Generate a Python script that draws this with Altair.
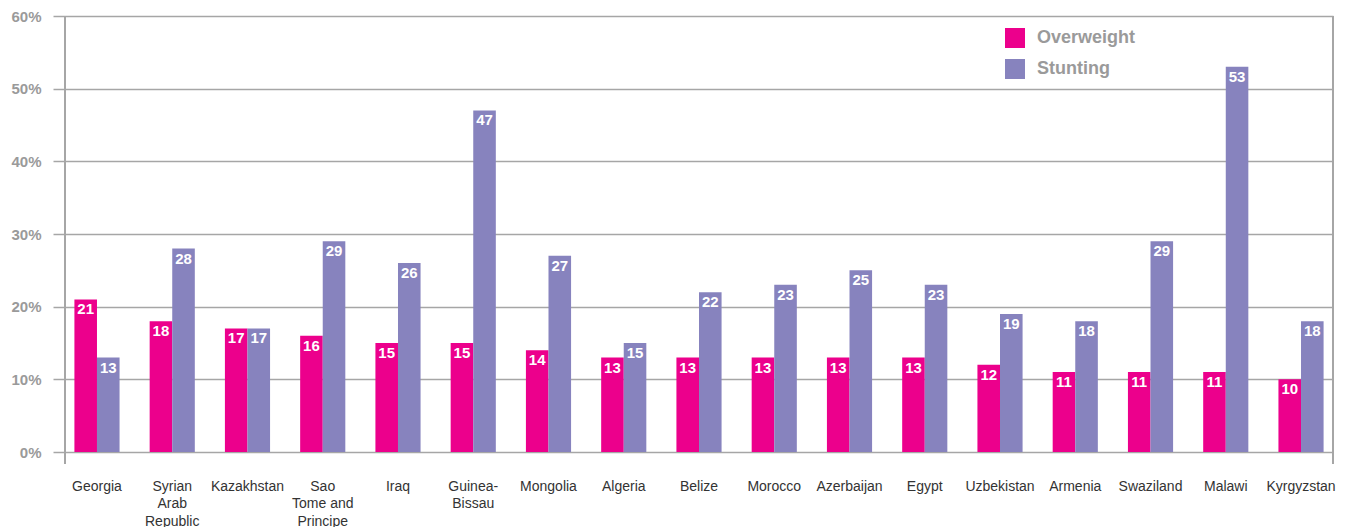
import altair as alt
import pandas as pd

countries = ["Georgia", "Syrian|Arab|Republic", "Kazakhstan", "Sao|Tome and|Principe", "Iraq",
             "Guinea-|Bissau", "Mongolia", "Algeria", "Belize", "Morocco", "Azerbaijan", "Egypt",
             "Uzbekistan", "Armenia", "Swaziland", "Malawi", "Kyrgyzstan"]
overweight = [21, 18, 17, 16, 15, 15, 14, 13, 13, 13, 13, 13, 12, 11, 11, 11, 10]
stunting = [13, 28, 17, 29, 26, 47, 27, 15, 22, 23, 25, 23, 19, 18, 29, 53, 18]
series = ["Overweight", "Stunting"]
colors = ["#EC008C", "#8783BE"]
y_ticks = [0, 10, 20, 30, 40, 50, 60]

rows = []
for c, o, s in zip(countries, overweight, stunting):
    rows.append({"country": c, "series": "Overweight", "value": o})
    rows.append({"country": c, "series": "Stunting", "value": s})
df = pd.DataFrame(rows)

W, H = 1268, 436
FONT = "Liberation Sans"

xenc = alt.X("country:N", sort=countries, title=None,
             scale=alt.Scale(paddingInner=0.4, paddingOuter=0.125),
             axis=alt.Axis(labelExpr="split(datum.label, '|')", labelAngle=0, ticks=False,
                           domain=False, labelPadding=34, labelFontSize=14, labelColor="#333333",
                           labelFont=FONT, labelLineHeight=17.5, labelBaseline="middle"))
yenc = alt.Y("value:Q", title=None,
             scale=alt.Scale(domain=[0, 60], nice=False),
             axis=alt.Axis(values=y_ticks, labelExpr="datum.value + '%'", domain=False,
                           tickSize=12, tickColor="#A6A6A6", tickWidth=1.5,
                           gridColor="#A6A6A6", gridWidth=1.5, gridOpacity=1,
                           labelPadding=12, labelFontSize=15, labelFontWeight="bold",
                           labelColor="#9A9A9A", labelFont=FONT))

base = alt.Chart(df)
bars = base.mark_bar().encode(
    x=xenc, y=yenc,
    xOffset=alt.XOffset("series:N", sort=series, scale=alt.Scale(paddingInner=0, paddingOuter=0)),
    color=alt.Color("series:N", sort=series,
                    scale=alt.Scale(domain=series, range=colors),
                    legend=alt.Legend(title=None, orient="none", legendX=940, legendY=12,
                                      symbolType="square", symbolSize=400, symbolStrokeWidth=0,
                                      symbolOpacity=1, labelFontSize=18, labelFontWeight="bold",
                                      labelColor="#9A9A9A", labelFont=FONT, labelOffset=12,
                                      rowPadding=11)),
)
labels = base.mark_text(baseline="top", dy=3, color="white", fontWeight="bold",
                        fontSize=15, font=FONT).encode(
    x=alt.X("country:N", sort=countries),
    xOffset=alt.XOffset("series:N", sort=series),
    y="value:Q",
    text="value:Q",
)
left_line = alt.Chart(df).mark_rule(color="#A6A6A6", strokeWidth=2).encode(
    x=alt.value(0), y=alt.value(0), y2=alt.value(H + 12))
right_line = alt.Chart(df).mark_rule(color="#A6A6A6", strokeWidth=2).encode(
    x=alt.value(W), y=alt.value(0), y2=alt.value(H + 12))

chart = alt.layer(bars, labels, left_line, right_line).properties(
    width=W, height=H,
    autosize=alt.AutoSizeParams(type="none"),
    padding={"left": 57, "top": 8, "right": 8, "bottom": 75},
).configure_view(stroke=None).configure(background="white")

chart.save("out.html", embed_options={"renderer": "svg", "actions": False})
